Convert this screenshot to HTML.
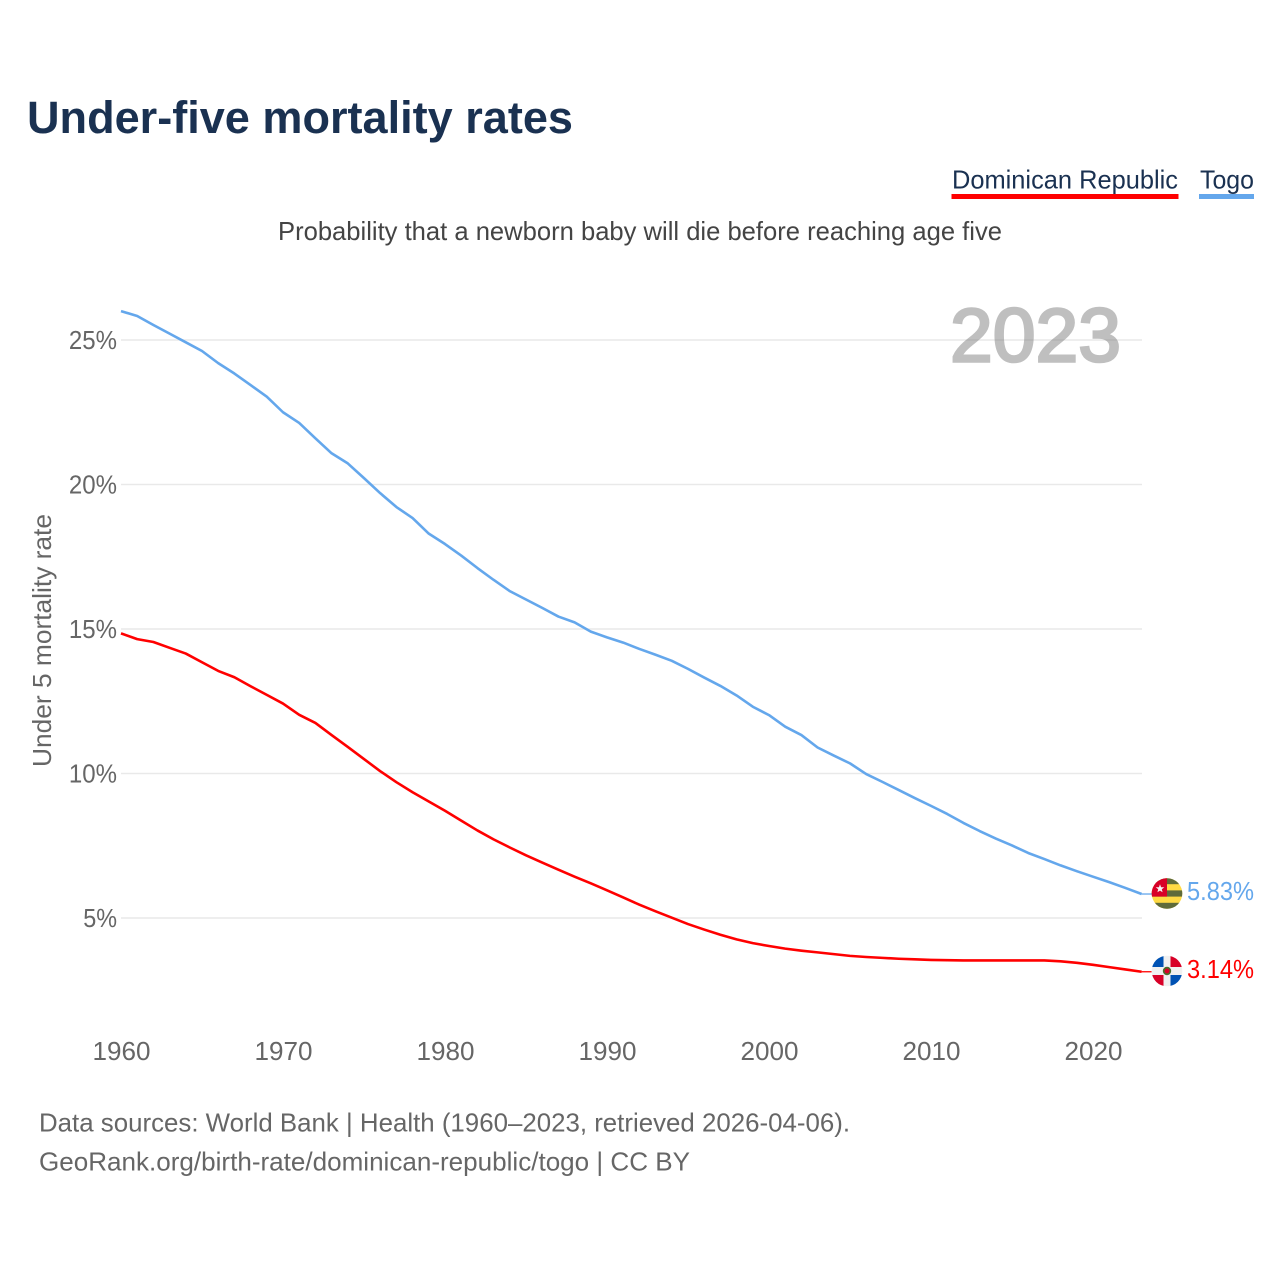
<!DOCTYPE html>
<html lang="en">
<head>
<meta charset="utf-8">
<title>Under-five mortality rates</title>
<style>
html,body{margin:0;padding:0;background:#fff;}
svg{display:block;}
text{font-family:"Liberation Sans",sans-serif;}
</style>
</head>
<body>
<svg id="chart" width="1280" height="1280" viewBox="0 0 1280 1280" xmlns="http://www.w3.org/2000/svg">
  <defs>
    <clipPath id="clip-tg"><circle cx="1167" cy="893.5" r="15.3"/></clipPath>
    <clipPath id="clip-do"><circle cx="1167" cy="971" r="15.3"/></clipPath>
  </defs>
  <rect x="0" y="0" width="1280" height="1280" fill="#fff"/>
  <text x="27" y="133" font-size="45" font-weight="700" fill="#1a3151" textLength="546" lengthAdjust="spacingAndGlyphs">Under-five mortality rates</text>

  <g>
    <g>
      <text x="952" y="188.5" font-size="26" fill="#1a3151" textLength="226" lengthAdjust="spacingAndGlyphs">Dominican Republic</text>
      <rect x="951.5" y="194" width="227" height="5" fill="#ff0000"/>
    </g>
    <g>
      <text x="1200" y="188.5" font-size="26" fill="#1a3151" textLength="54" lengthAdjust="spacingAndGlyphs">Togo</text>
      <rect x="1199" y="194" width="55" height="5" fill="#64a7ec"/>
    </g>
  </g>

  <text x="278" y="240" font-size="26" fill="#444" textLength="724" lengthAdjust="spacingAndGlyphs">Probability that a newborn baby will die before reaching age five</text>

  <g id="grid"></g>
  <text x="950" y="361.7" font-size="76" fill="#808080" stroke="#808080" stroke-width="2.6" opacity="0.5" textLength="171" lengthAdjust="spacingAndGlyphs">2023</text>
  <g id="yticks"></g>
  <g id="xticks"></g>
  <text transform="translate(51,767) rotate(-90)" font-size="26" fill="#666" textLength="253" lengthAdjust="spacingAndGlyphs">Under 5 mortality rate</text>

  <line id="connector-togo" stroke="#64a7ec" stroke-width="1.3"/>
  <line id="connector-do" stroke="#ff0000" stroke-width="1.3"/>
  <path id="line-togo" fill="none" stroke="#64a7ec" stroke-width="2.6" stroke-linejoin="round"/>
  <path id="line-do" fill="none" stroke="#ff0000" stroke-width="2.6" stroke-linejoin="round"/>

  <g id="flag-tg" clip-path="url(#clip-tg)">
    <rect x="1151" y="878" width="32" height="32" fill="#ffda44"/>
    <rect x="1151" y="878" width="32" height="6.2" fill="#5f6b3a"/>
    <rect x="1151" y="890.4" width="32" height="6.2" fill="#5f6b3a"/>
    <rect x="1151" y="902.8" width="32" height="7" fill="#5f6b3a"/>
    <rect x="1151" y="878" width="16" height="18.6" fill="#d80027"/>
    <polygon points="1160,884.2 1161.1,887.2 1164.3,887.3 1161.8,889.3 1162.6,892.3 1160,890.6 1157.4,892.3 1158.2,889.3 1155.7,887.3 1158.9,887.2" fill="#f5f5f5"/>
  </g>
  <g id="flag-do" clip-path="url(#clip-do)">
    <rect x="1151" y="955" width="32" height="32" fill="#f0f0f0"/>
    <rect x="1151" y="955" width="12.5" height="12" fill="#0052b4"/>
    <rect x="1170.5" y="955" width="13" height="12" fill="#d80027"/>
    <rect x="1151" y="975" width="12.5" height="12.5" fill="#d80027"/>
    <rect x="1170.5" y="975" width="13" height="12.5" fill="#0052b4"/>
    <circle cx="1167" cy="971" r="4.2" fill="#496e2d"/>
    <circle cx="1167" cy="971" r="2.5" fill="#d80027"/>
  </g>
  <text id="value-togo" x="1187" y="900" font-size="26" fill="#64a7ec" textLength="67" lengthAdjust="spacingAndGlyphs"></text>
  <text id="value-do" x="1187" y="978" font-size="26" fill="#ff0000" textLength="67" lengthAdjust="spacingAndGlyphs"></text>

  <text x="39" y="1131.5" font-size="26" fill="#666" textLength="811" lengthAdjust="spacingAndGlyphs">Data sources: World Bank | Health (1960–2023, retrieved 2026-04-06).</text>
  <text x="39" y="1170.5" font-size="26" fill="#666" textLength="651" lengthAdjust="spacingAndGlyphs">GeoRank.org/birth-rate/dominican-republic/togo | CC BY</text>
</svg>
<script>
const startYear = 1960;
const togoValues = [26.0,25.83,25.52,25.22,24.92,24.62,24.2,23.84,23.44,23.04,22.5,22.13,21.6,21.08,20.73,20.22,19.7,19.22,18.84,18.3,17.94,17.54,17.11,16.7,16.31,16.02,15.73,15.43,15.23,14.91,14.71,14.53,14.31,14.11,13.9,13.62,13.32,13.03,12.7,12.31,12.02,11.62,11.33,10.9,10.62,10.35,9.98,9.71,9.43,9.15,8.88,8.6,8.29,8.01,7.75,7.51,7.25,7.04,6.82,6.62,6.43,6.24,6.04,5.83];
const dominicanValues = [14.85,14.65,14.55,14.35,14.15,13.85,13.55,13.33,13.02,12.72,12.42,12.03,11.75,11.33,10.92,10.5,10.08,9.7,9.35,9.03,8.71,8.37,8.03,7.72,7.44,7.17,6.92,6.67,6.43,6.2,5.96,5.71,5.46,5.23,5.01,4.79,4.6,4.42,4.26,4.13,4.03,3.94,3.87,3.81,3.75,3.69,3.65,3.62,3.59,3.57,3.55,3.54,3.53,3.53,3.53,3.53,3.53,3.53,3.5,3.45,3.38,3.3,3.22,3.14];
const yTickValues = [5,10,15,20,25];
const xTickValues = [1960,1970,1980,1990,2000,2010,2020];

const SVG_NS = 'http://www.w3.org/2000/svg';
function xScale(year) { return 121 + (year - 1960) * 16.2; }
function yScale(value) { return 918 - (value - 5) * 28.9; }
function linePath(values) {
  let d = '';
  values.forEach(function (v, i) {
    d += (i ? 'L' : 'M') + xScale(startYear + i).toFixed(2) + ' ' + yScale(v).toFixed(2);
  });
  return d;
}
function setConnector(id, values) {
  const el = document.getElementById(id);
  const last = values[values.length - 1];
  const x = xScale(startYear + values.length - 1);
  el.setAttribute('x1', x);
  el.setAttribute('x2', x + 10);
  el.setAttribute('y1', yScale(last));
  el.setAttribute('y2', yScale(last));
}

const grid = document.getElementById('grid');
const yticks = document.getElementById('yticks');
const xticks = document.getElementById('xticks');

yTickValues.forEach(function (v) {
  const line = document.createElementNS(SVG_NS, 'line');
  
  
  line.setAttribute('x1', 121);
  line.setAttribute('x2', 1142);
  line.setAttribute('y1', yScale(v));
  line.setAttribute('y2', yScale(v));
  line.setAttribute('stroke', '#e9e9e9');
  line.setAttribute('stroke-width', '1.5');
  grid.appendChild(line);

  const label = document.createElementNS(SVG_NS, 'text');
  
  
  const digits = String(v).length;
  const labelWidth = digits * 14.3 + 19.5;
  label.setAttribute('x', 117 - labelWidth);
  label.setAttribute('y', yScale(v) + 9);
  label.setAttribute('font-size', '26');
  label.setAttribute('fill', '#666');
  label.setAttribute('textLength', labelWidth);
  label.setAttribute('lengthAdjust', 'spacingAndGlyphs');
  label.textContent = v + '%';
  yticks.appendChild(label);
});

xTickValues.forEach(function (year) {
  const label = document.createElementNS(SVG_NS, 'text');
  
  
  label.setAttribute('x', xScale(year) - 28.5);
  label.setAttribute('y', 1060);
  label.setAttribute('font-size', '26');
  label.setAttribute('fill', '#666');
  label.setAttribute('textLength', '58');
  label.setAttribute('lengthAdjust', 'spacingAndGlyphs');
  label.textContent = String(year);
  xticks.appendChild(label);
});

document.getElementById('line-togo').setAttribute('d', linePath(togoValues));
document.getElementById('line-do').setAttribute('d', linePath(dominicanValues));
setConnector('connector-togo', togoValues);
setConnector('connector-do', dominicanValues);
document.getElementById('value-togo').textContent = togoValues[togoValues.length - 1].toFixed(2) + '%';
document.getElementById('value-do').textContent = dominicanValues[dominicanValues.length - 1].toFixed(2) + '%';
</script>
</body>
</html>
